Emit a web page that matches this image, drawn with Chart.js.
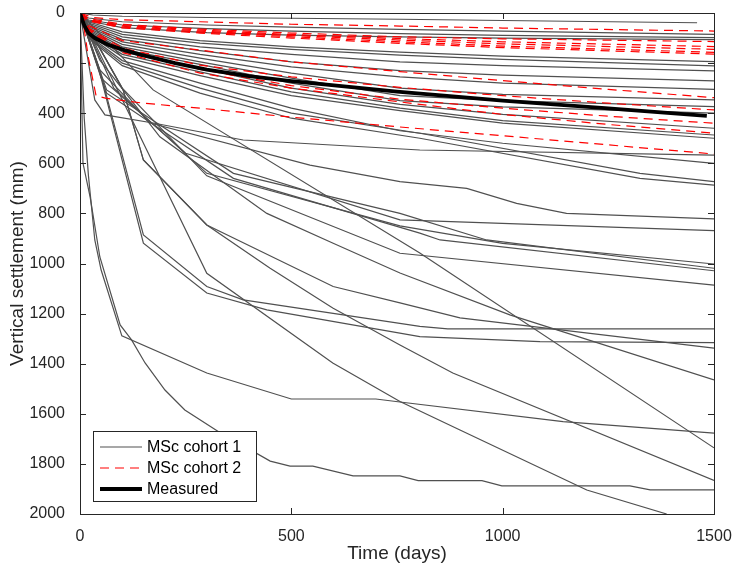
<!DOCTYPE html>
<html>
<head>
<meta charset="utf-8">
<script src="https://cdn.jsdelivr.net/npm/chart.js@4.4.0/dist/chart.umd.min.js"></script>
<style>
html, body { margin: 0; padding: 0; background: #ffffff; }
#wrap { width: 732px; height: 569px; }
</style>
</head>
<body>
<div id="wrap"><canvas id="grafico" width="732" height="569"></canvas></div>
<script>
// ticks dos eixos
const xTicks = [0, 500, 1000, 1500];
const yTicks = [0, 200, 400, 600, 800, 1000, 1200, 1400, 1600, 1800, 2000];

// MSc cohort 1 - cada serie: [dias, recalque mm]
const g01 = [[0,0],[30,8],[100,13],[300,18],[500,21],[757,25],[1000,30],[1460,39]];
const g02 = [[0,0],[20,20],[100,35],[300,48],[500,56],[757,65],[1000,72],[1500,85]];
const g03 = [[0,0],[20,28],[100,48],[300,62],[500,72],[757,82],[1000,89],[1500,98]];
const g04 = [[0,0],[20,32],[100,58],[300,78],[500,88],[757,95],[1000,100],[1500,106]];
const g05 = [[0,0],[20,35],[100,75],[284,110],[500,135],[757,156],[1000,172],[1500,194]];
const g06 = [[0,0],[20,40],[100,85],[284,120],[500,145],[757,168],[1000,185],[1500,211]];
const g07 = [[0,0],[20,45],[100,95],[284,135],[500,165],[757,195],[1000,210],[1500,231]];
const g08 = [[0,0],[20,50],[100,105],[284,150],[500,195],[757,230],[1000,248],[1500,271]];
const g09 = [[0,0],[20,55],[100,115],[284,165],[500,215],[757,255],[1000,280],[1500,305]];
const g10 = [[0,0],[20,60],[100,125],[284,180],[500,240],[757,300],[1000,325],[1500,347]];
const g11 = [[0,0],[20,65],[100,135],[284,195],[500,260],[757,330],[1000,350],[1500,374]];
const g12 = [[0,0],[20,70],[100,145],[284,205],[500,280],[757,350],[1000,375],[1500,400]];
const g13 = [[0,0],[20,75],[100,155],[284,220],[500,300],[757,365],[1000,405],[1500,460]];
const g14 = [[0,0],[20,80],[100,165],[284,235],[500,315],[757,380],[1000,430],[1500,487]];
const g15 = [[0,0],[20,85],[100,175],[284,250],[500,330],[757,390],[1000,440],[1500,500]];
const g16 = [[0,0],[19,188],[35,347],[59,407],[173,439],[386,507],[804,547],[1500,567]];
const g17 = [[0,0],[20,90],[100,190],[284,280],[500,380],[757,470],[1000,520],[1500,600]];
const g18 = [[0,0],[20,95],[100,200],[284,300],[500,400],[804,480],[1325,640],[1500,673]];
const g19 = [[0,0],[20,100],[100,210],[284,320],[500,420],[804,500],[1325,660],[1500,687]];
const g20 = [[0,0],[47,227],[166,439],[544,607],[757,673],[915,700],[1033,760],[1151,800],[1500,822]];
const g21 = [[0,0],[50,260],[250,560],[757,826],[1500,869]];
const g22 = [[0,0],[63,307],[363,640],[757,800],[962,906],[1500,1019]];
const g23 = [[0,0],[63,320],[363,660],[804,879],[852,906],[1500,1029]];
const g24 = [[0,0],[80,300],[300,640],[757,850],[1000,920],[1500,1002]];
const g25 = [[0,0],[100,300],[300,650],[757,959],[1500,1086]];
const g26 = [[0,0],[47,230],[150,886],[300,1092],[386,1145],[804,1251],[870,1261],[1500,1261]];
const g27 = [[0,0],[47,240],[150,919],[300,1118],[442,1185],[804,1292],[1088,1312],[1500,1316]];
const g28 = [[0,0],[102,307],[150,587],[300,846],[599,1092],[757,1157],[899,1217],[1500,1338]];
const g29 = [[0,0],[47,188],[189,494],[442,800],[599,919],[757,1038],[1017,1205],[1500,1465]];
const g30 = [[0,0],[10,420],[20,650],[35,906],[50,1026],[99,1289],[300,1437],[500,1541],[700,1541],[757,1553],[1143,1631],[1500,1677]];
const g31 = [[0,0],[173,307],[804,958],[1500,1736]];
const g32 = [[0,0],[102,307],[150,587],[300,846],[449,1018],[598,1178],[757,1325],[882,1437],[1500,1866]];
const g33 = [[0,0],[7,599],[24,735],[47,974],[95,1245],[122,1305],[154,1397],[201,1505],[248,1585],[327,1671],[450,1789],[497,1809],[551,1809],[646,1848],[757,1848],[800,1867],[951,1867],[998,1888],[1301,1888],[1349,1904],[1500,1904]];
const g34 = [[0,0],[300,1039],[598,1397],[757,1551],[899,1665],[1199,1904],[1388,2000]];

// MSc cohort 2
const r01 = [[0,0],[30,18],[100,27],[284,35],[500,45],[757,52],[1000,60],[1500,72]];
const r02 = [[0,0],[20,22],[100,45],[284,64],[500,80],[757,95],[1000,103],[1500,114]];
const r03 = [[0,0],[20,26],[100,50],[284,68],[500,86],[757,102],[1000,115],[1500,134]];
const r04 = [[0,0],[20,28],[100,53],[284,72],[500,90],[757,108],[1000,123],[1500,145]];
const r05 = [[0,0],[20,30],[100,56],[284,76],[500,95],[757,115],[1000,132],[1500,157]];
const r06 = [[0,0],[20,32],[100,59],[284,80],[500,100],[757,121],[1000,138],[1500,164]];
const r07 = [[0,0],[20,50],[100,110],[284,148],[500,195],[757,234],[1000,270],[1250,305],[1500,338]];
const r08 = [[0,0],[20,60],[100,140],[284,208],[500,255],[757,297],[1000,330],[1250,360],[1500,387]];
const r09 = [[0,0],[20,65],[100,150],[284,225],[500,290],[757,344],[1000,380],[1250,412],[1500,440]];
const r10 = [[0,0],[20,70],[100,158],[284,240],[500,300],[757,355],[1000,405],[1250,445],[1500,480]];
const r11 = [[0,0],[8,40],[20,180],[38,330],[60,340],[150,360],[284,380],[489,414],[757,455],[1000,490],[1500,563]];

// Measured
const medido = [[0,0],[10,50],[20,80],[35,100],[65,126],[105,148],[145,167],[225,200],[300,226],[400,252],[500,272],[750,314],[1000,350],[1250,381],[1483,411]];

const cohort1 = [g01,g02,g03,g04,g05,g06,g07,g08,g09,g10,g11,g12,g13,g14,g15,g16,g17,g18,g19,g20,g21,g22,g23,g24,g25,g26,g27,g28,g29,g30,g31,g32,g33,g34];
const cohort2 = [r01,r02,r03,r04,r05,r06,r07,r08,r09,r10,r11];

const CINZA = '#505050';
const VERMELHO = '#ff0000';
const PRETO = '#000000';
const EIXO = '#262626';
const FONTE = "'Liberation Sans', Arial, sans-serif";

function paraPontos(serie) {
    return serie.map(p => ({ x: p[0], y: p[1] }));
}

const datasets = [];
datasets.push({ label: 'Measured', data: paraPontos(medido), borderColor: PRETO, borderWidth: 3.8, order: 0 });
cohort2.forEach(s => datasets.push({ label: 'MSc cohort 2', data: paraPontos(s), borderColor: VERMELHO, borderWidth: 1.2, borderDash: [9, 6], order: 1 }));
cohort1.forEach(s => datasets.push({ label: 'MSc cohort 1', data: paraPontos(s), borderColor: CINZA, borderWidth: 1.2, order: 2 }));

// moldura com ticks para dentro (estilo matlab)
const moldura = {
    id: 'moldura',
    afterDatasetsDraw(chart) {
        const { ctx, chartArea: a, scales } = chart;
        ctx.save();
        ctx.strokeStyle = EIXO;
        ctx.lineWidth = 1;
        ctx.strokeRect(a.left + 0.5, a.top + 0.5, a.right - a.left, a.bottom - a.top);
        const t = 6;
        ctx.beginPath();
        xTicks.forEach(v => {
            const x = Math.round(scales.x.getPixelForValue(v)) + 0.5;
            ctx.moveTo(x, a.bottom); ctx.lineTo(x, a.bottom - t);
            ctx.moveTo(x, a.top); ctx.lineTo(x, a.top + t);
        });
        yTicks.forEach(v => {
            const y = Math.round(scales.y.getPixelForValue(v)) + 0.5;
            ctx.moveTo(a.left, y); ctx.lineTo(a.left + t, y);
            ctx.moveTo(a.right, y); ctx.lineTo(a.right - t, y);
        });
        ctx.stroke();
        ctx.restore();
    }
};

// legenda dentro do grafico, canto inferior esquerdo
const legenda = {
    id: 'legenda',
    afterDraw(chart) {
        const ctx = chart.ctx;
        const itens = [
            { texto: 'MSc cohort 1', cor: CINZA, largura: 1.2, dash: [] },
            { texto: 'MSc cohort 2', cor: VERMELHO, largura: 1.2, dash: [9, 6] },
            { texto: 'Measured', cor: PRETO, largura: 3.8, dash: [] }
        ];
        const x0 = 93.5, y0 = 431.5, w = 163, h = 70;
        ctx.save();
        ctx.fillStyle = '#ffffff';
        ctx.fillRect(x0, y0, w, h);
        ctx.strokeStyle = EIXO;
        ctx.lineWidth = 1;
        ctx.strokeRect(x0, y0, w, h);
        ctx.font = '16px ' + FONTE;
        ctx.textBaseline = 'middle';
        itens.forEach((it, i) => {
            const y = 447 + i * 21;
            ctx.beginPath();
            ctx.setLineDash(it.dash);
            ctx.strokeStyle = it.cor;
            ctx.lineWidth = it.largura;
            ctx.moveTo(100, y); ctx.lineTo(142, y);
            ctx.stroke();
            ctx.setLineDash([]);
            ctx.fillStyle = '#000000';
            ctx.fillText(it.texto, 147, y + 1);
        });
        ctx.restore();
    }
};

new Chart(document.getElementById('grafico').getContext('2d'), {
    type: 'line',
    data: { datasets: datasets },
    options: {
        responsive: false,
        animation: false,
        devicePixelRatio: 1,
        elements: { point: { radius: 0 }, line: { tension: 0 } },
        layout: { padding: { top: 13, right: 18, left: 0, bottom: 0 } },
        plugins: { legend: { display: false }, tooltip: { enabled: false } },
        scales: {
            x: {
                type: 'linear',
                min: 0,
                max: 1500,
                afterBuildTicks: s => { s.ticks = xTicks.map(v => ({ value: v })); },
                afterFit: s => { s.height = 55; s.paddingLeft = 0; s.paddingRight = 0; },
                grid: { display: false },
                border: { display: false },
                ticks: { color: EIXO, font: { family: FONTE, size: 16 }, padding: 5, maxRotation: 0, callback: v => String(v) },
                title: { display: true, text: 'Time (days)', color: EIXO, font: { family: FONTE, size: 19 }, padding: { top: 0 } }
            },
            y: {
                type: 'linear',
                reverse: true,
                min: 0,
                max: 2000,
                afterBuildTicks: s => { s.ticks = yTicks.map(v => ({ value: v })); },
                afterFit: s => { s.width = 80; s.paddingTop = 0; s.paddingBottom = 0; },
                grid: { display: false },
                border: { display: false },
                ticks: { color: EIXO, font: { family: FONTE, size: 16 }, padding: 7, callback: v => String(v) },
                title: { display: true, text: 'Vertical settlement (mm)', color: EIXO, font: { family: FONTE, size: 19 }, padding: { top: 6, bottom: 0 } }
            }
        }
    },
    plugins: [moldura, legenda]
});
</script>
</body>
</html>
